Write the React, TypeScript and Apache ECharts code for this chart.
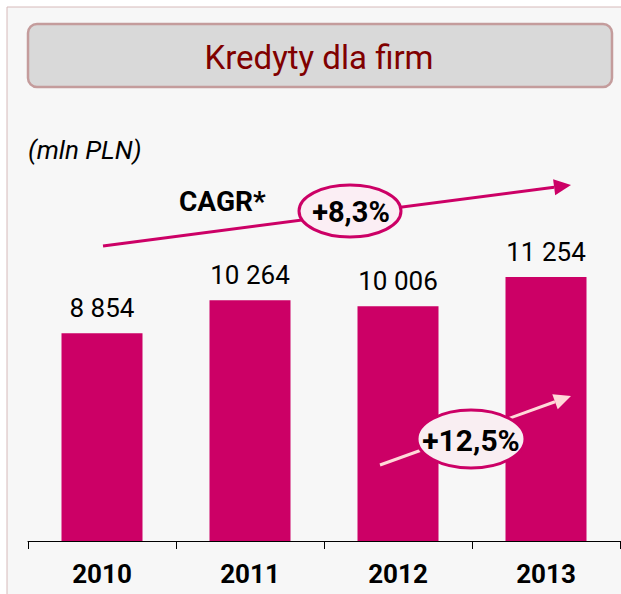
import React, { useEffect, useRef } from "react";
import * as echarts from "echarts";

const categories = ["2010", "2011", "2012", "2013"];
const values = [8854, 10264, 10006, 11254];
const titleText = "Kredyty dla firm";
const unitText = "(mln PLN)";
const cagrLabel = "CAGR*";
const cagrValue = "+8,3%";
const lastGrowth = "+12,5%";

const BAR = "#cc0066";
const FONT = "Roboto, 'Liberation Sans', sans-serif";

function fmt(v: number): string {
  return String(v).replace(/\B(?=(\d{3})+(?!\d))/g, " ");
}

function arrow(x1: number, y1: number, x2: number, y2: number, color: string, w: number) {
  const dx = x2 - x1, dy = y2 - y1;
  const len = Math.sqrt(dx * dx + dy * dy);
  const ux = dx / len, uy = dy / len;
  const hl = 17, hw = 8;
  const bx = x2 - hl * ux, by = y2 - hl * uy;
  const nx = -uy, ny = ux;
  return [
    { type: "line", shape: { x1, y1, x2: bx, y2: by }, style: { stroke: color, lineWidth: w }, z: 10 },
    {
      type: "polygon",
      shape: { points: [[x2, y2], [bx + hw * nx, by + hw * ny], [bx - hw * nx, by - hw * ny]] },
      style: { fill: color },
      z: 10,
    },
  ];
}

export default function App() {
  const ref = useRef<HTMLDivElement>(null);
  useEffect(() => {
    if (!ref.current) return;
    const chart = echarts.init(ref.current, null, { renderer: "svg" });
    chart.setOption({
      animation: false,
      backgroundColor: "#ffffff",
      grid: { left: 28, right: 1, top: 189, bottom: 53, containLabel: false },
      xAxis: {
        type: "category",
        data: categories,
        boundaryGap: true,
        axisLine: { show: true, lineStyle: { color: "#000", width: 1 } },
        axisTick: { show: true, length: 8, lineStyle: { color: "#000", width: 1 } },
        axisLabel: { color: "#000", fontFamily: FONT, fontWeight: "bold", fontSize: 26, margin: 20 },
        z: 5,
      },
      yAxis: { type: "value", min: 0, max: 15000, show: false, splitLine: { show: false } },
      series: [
        {
          type: "bar",
          data: values,
          barWidth: 81,
          itemStyle: { color: BAR },
          label: {
            show: true,
            position: "top",
            distance: 12,
            color: "#000",
            fontFamily: FONT,
            fontSize: 26,
            formatter: (p: any) => fmt(p.value),
          },
          z: 3,
        },
      ],
      graphic: [
        {
          type: "rect",
          shape: { x: 7, y: 7, width: 640, height: 620 },
          style: { fill: "#f7f7f7", stroke: "#d6baba", lineWidth: 1 },
          z: -10,
          silent: true,
        },
        {
          type: "rect",
          shape: { x: 28, y: 24, width: 584, height: 63, r: 9 },
          style: { fill: "#d9d9d9", stroke: "#c49c9c", lineWidth: 2.5 },
          z: 1,
        },
        {
          type: "text",
          x: 319,
          y: 57,
          style: {
            text: titleText,
            fill: "#800000",
            font: `33px ${FONT}`,
            align: "center",
            verticalAlign: "middle",
          },
          z: 2,
        },
        {
          type: "text",
          x: 28,
          y: 150,
          style: {
            text: unitText,
            fill: "#000",
            font: `italic 26px ${FONT}`,
            align: "left",
            verticalAlign: "middle",
          },
          z: 2,
        },
        {
          type: "text",
          x: 179,
          y: 201,
          style: {
            text: cagrLabel,
            fill: "#000",
            font: `bold 28px ${FONT}`,
            align: "left",
            verticalAlign: "middle",
          },
          z: 2,
        },
        ...arrow(103, 246, 571, 185, BAR, 3),
        {
          type: "ellipse",
          shape: { cx: 350, cy: 211, rx: 51, ry: 26 },
          style: { fill: "#fbeef4", stroke: BAR, lineWidth: 3 },
          z: 11,
        },
        {
          type: "text",
          x: 351,
          y: 212,
          style: {
            text: cagrValue,
            fill: "#000",
            font: `bold 29px ${FONT}`,
            align: "center",
            verticalAlign: "middle",
          },
          z: 12,
        },
        ...arrow(380, 465, 571, 396, "#ffd9d9", 3),
        {
          type: "ellipse",
          shape: { cx: 471, cy: 439, rx: 54, ry: 29 },
          style: { fill: "#f9eef2", stroke: BAR, lineWidth: 3 },
          z: 11,
        },
        {
          type: "text",
          x: 471,
          y: 440,
          style: {
            text: lastGrowth,
            fill: "#000",
            font: `bold 30px ${FONT}`,
            align: "center",
            verticalAlign: "middle",
          },
          z: 12,
        },
      ],
    });
    return () => chart.dispose();
  }, []);
  return (
    <div
      ref={ref}
      style={{ position: "absolute", left: 0, top: 0, width: 621, height: 594 }}
    />
  );
}
